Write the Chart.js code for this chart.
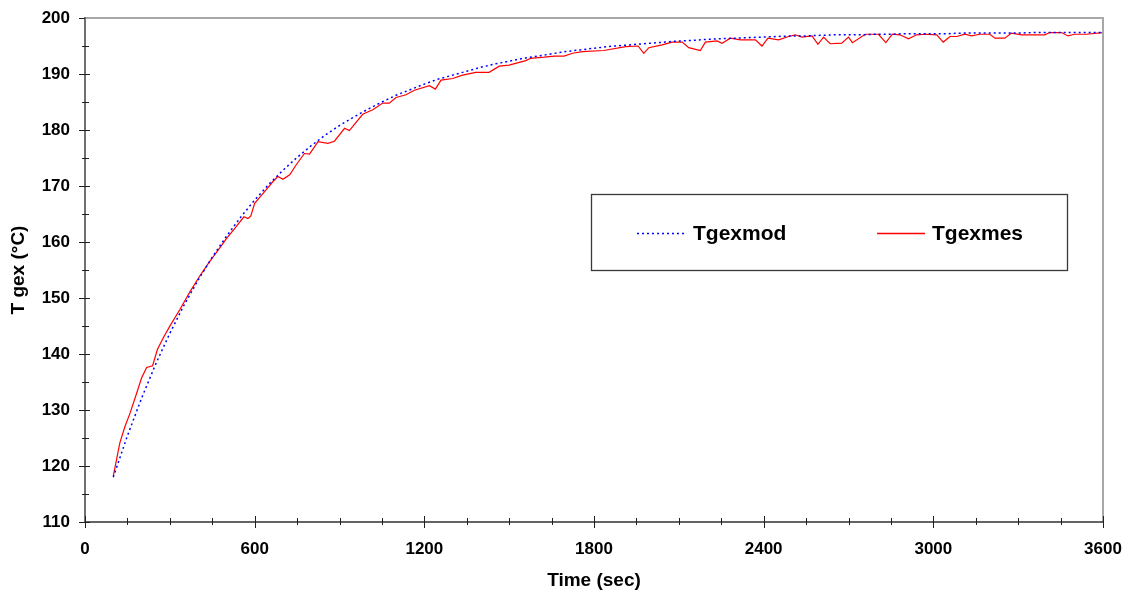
<!DOCTYPE html>
<html>
<head>
<meta charset="utf-8">
<script src="https://cdn.jsdelivr.net/npm/chart.js@4.4.1/dist/chart.umd.min.js"></script>
<style>
  html, body { margin: 0; padding: 0; background: #ffffff; }
  #wrap { width: 1131px; height: 594px; }
</style>
</head>
<body>
<div id="wrap"><canvas id="c" width="1131" height="594"></canvas></div>
<script>
// ---- data ----
const modelLabel = 'Tgexmod';
const measLabel = 'Tgexmes';
const modelColor = '#0000ff';
const measColor = '#ff0000';

const modelTime = [100,150,200,250,300,350,400,450,500,550,600,650,700,750,800,850,900,950,1000,1050,
  1100,1150,1200,1250,1300,1350,1400,1450,1500,1550,1600,1650,1700,1750,1800,1850,1900,1950,2000,2050,
  2100,2150,2200,2250,2300,2350,2400,2450,2500,2550,2600,2650,2700,2750,2800,2850,2900,2950,3000,3050,
  3100,3150,3200,3250,3300,3350,3400,3450,3500,3550,3600];
const modelTemp = [118.0,125.4,132.1,138.2,143.7,148.7,153.2,157.3,161.0,164.4,
  167.5,170.3,172.8,175.1,177.2,179.1,180.8,182.3,183.7,185.0,
  186.2,187.2,188.2,189.1,189.8,190.5,191.2,191.8,192.3,192.8,
  193.2,193.6,194.0,194.3,194.6,194.9,195.1,195.3,195.5,195.7,
  195.9,196.0,196.2,196.3,196.4,196.5,196.6,196.7,196.8,196.8,
  196.9,197.0,197.0,197.0,197.1,197.1,197.2,197.2,197.2,197.2,
  197.3,197.3,197.3,197.3,197.3,197.4,197.4,197.4,197.4,197.4,197.4];

const measTime = [100,123,141,159,180,200,218,239,256,277,298,335,371,403,435,476,500,529,562,576,
  586,600,635,665,682,700,724,747,776,794,824,859,882,918,935,982,1018,1053,1076,1100,
  1135,1165,1218,1239,1259,1300,1335,1382,1429,1465,1500,1529,1559,1576,1624,1660,1694,1724,1759,1835,
  1912,1956,1976,1994,2041,2076,2112,2135,2176,2194,2235,2253,2282,2318,2371,2394,2415,2453,2488,2512,
  2535,2571,2592,2612,2635,2676,2700,2714,2759,2806,2832,2855,2882,2912,2941,2971,3012,3035,3059,3082,
  3112,3135,3165,3200,3218,3253,3276,3312,3394,3412,3453,3476,3500,3541,3600];
const measTemp = [118.2,124.1,127.0,129.4,132.6,135.7,137.6,137.9,140.8,142.9,144.8,147.9,151.1,153.7,156.1,158.9,160.6,162.4,164.5,164.2,
  164.6,166.9,169.0,170.8,171.7,171.2,172.0,173.8,175.8,175.7,177.9,177.6,178.0,180.3,179.9,182.8,183.6,184.8,184.8,185.8,
  186.3,187.1,187.9,187.3,188.9,189.2,189.8,190.3,190.3,191.4,191.6,192.0,192.4,192.8,193.0,193.2,193.2,193.7,194.0,194.2,
  194.9,195.0,193.7,194.7,195.2,195.7,195.7,194.7,194.2,195.7,195.9,195.5,196.4,196.1,196.1,195.0,196.4,196.1,196.7,197.0,
  196.6,196.8,195.3,196.6,195.4,195.5,196.6,195.6,197.1,197.1,195.6,197.1,197.0,196.3,197.0,197.1,197.0,195.7,196.7,196.7,
  197.1,196.8,197.1,197.1,196.4,196.4,197.3,197.0,197.0,197.4,197.4,196.8,197.1,197.1,197.4];

const xTitle = 'Time (sec)';
const yTitle = 'T gex (°C)';
const xMin = 0, xMax = 3600, xStep = 600, xMinorStep = 150;
const yMin = 110, yMax = 200, yStep = 10, yMinorStep = 5;

// ---- chart ----
const FONT = "'Liberation Sans', Arial, Helvetica, sans-serif";

const axisDecor = {
  id: 'axisDecor',
  afterDraw(chart) {
    const ctx = chart.ctx;
    const { left, right, top, bottom } = chart.chartArea;
    const xs = chart.scales.x, ys = chart.scales.y;
    ctx.save();
    // top and right frame
    ctx.strokeStyle = '#a8a8a8';
    ctx.lineWidth = 2;
    ctx.beginPath();
    ctx.moveTo(left, top);
    ctx.lineTo(right, top);
    ctx.lineTo(right, bottom);
    ctx.stroke();
    // left axis
    ctx.strokeStyle = '#707070';
    ctx.lineWidth = 2;
    ctx.beginPath();
    ctx.moveTo(left, top - 1);
    ctx.lineTo(left, bottom + 1);
    ctx.stroke();
    // bottom axis
    ctx.strokeStyle = '#303030';
    ctx.lineWidth = 1.5;
    ctx.beginPath();
    ctx.moveTo(left, bottom);
    ctx.lineTo(right, bottom);
    ctx.stroke();
    // y ticks
    ctx.strokeStyle = '#202020';
    ctx.lineWidth = 1;
    for (let v = yMin; v <= yMax; v += yMinorStep) {
      const py = Math.round(ys.getPixelForValue(v)) + 0.5;
      const major = (v - yMin) % yStep === 0;
      ctx.beginPath();
      if (v === yMax) {
        ctx.moveTo(left - 6, py); ctx.lineTo(left, py);
      } else if (major) {
        ctx.moveTo(left - 6, py); ctx.lineTo(left + 5, py);
      } else {
        ctx.moveTo(left - 3, py); ctx.lineTo(left + 4, py);
      }
      ctx.stroke();
    }
    // x ticks
    for (let v = xMin; v <= xMax; v += xMinorStep) {
      const px = Math.round(xs.getPixelForValue(v)) + 0.5;
      const major = (v - xMin) % xStep === 0;
      ctx.beginPath();
      if (major) {
        ctx.moveTo(px, bottom - 6); ctx.lineTo(px, bottom + 6);
      } else {
        ctx.moveTo(px, bottom - 4); ctx.lineTo(px, bottom + 3);
      }
      ctx.stroke();
    }
    ctx.restore();
  }
};

const legendStyles = [
  { color: modelColor, width: 1.5, dash: [2, 3], x0: 637, x1: 686, tx: 693 },
  { color: measColor, width: 1.3, dash: [], x0: 877, x1: 925, tx: 932 }
];

const boxLegend = {
  id: 'boxLegend',
  afterDraw(chart) {
    const ctx = chart.ctx;
    const ds = chart.data.datasets;
    const bx = 591, by = 194, bw = 476, bh = 76;
    ctx.save();
    ctx.fillStyle = '#ffffff';
    ctx.fillRect(bx, by, bw, bh);
    ctx.strokeStyle = '#3a3a3a';
    ctx.lineWidth = 1.3;
    ctx.strokeRect(bx + 0.5, by + 0.5, bw, bh);
    const ly = 233.5;
    ds.forEach((d, i) => {
      const e = legendStyles[i];
      ctx.strokeStyle = e.color;
      ctx.lineWidth = e.width;
      ctx.setLineDash(e.dash);
      ctx.beginPath();
      ctx.moveTo(e.x0, ly);
      ctx.lineTo(e.x1, ly);
      ctx.stroke();
      ctx.setLineDash([]);
      ctx.fillStyle = '#000000';
      ctx.font = 'bold 21px ' + FONT;
      ctx.textBaseline = 'alphabetic';
      ctx.textAlign = 'left';
      ctx.fillText(d.label, e.tx, 239.5);
    });
    ctx.restore();
  }
};

const modelPoints = modelTime.map((t, i) => ({ x: t, y: modelTemp[i] }));
const measPoints = measTime.map((t, i) => ({ x: t, y: measTemp[i] }));

new Chart(document.getElementById('c'), {
  type: 'scatter',
  data: {
    datasets: [
      {
        label: modelLabel,
        data: modelPoints,
        showLine: true,
        borderColor: modelColor,
        backgroundColor: modelColor,
        borderWidth: 1.5,
        borderDash: [2, 3],
        pointRadius: 0,
        tension: 0,
        order: 1
      },
      {
        label: measLabel,
        data: measPoints,
        showLine: true,
        borderColor: measColor,
        backgroundColor: measColor,
        borderWidth: 1.2,
        pointRadius: 0,
        tension: 0,
        order: 2
      }
    ]
  },
  options: {
    responsive: false,
    animation: false,
    devicePixelRatio: 1,
    layout: { padding: { top: 18, right: 28, left: 0, bottom: 0 } },
    plugins: {
      legend: { display: false },
      tooltip: { enabled: false }
    },
    scales: {
      x: {
        type: 'linear',
        min: xMin, max: xMax,
        grid: { display: false, drawTicks: true, tickLength: 8 },
        border: { display: false },
        ticks: {
          stepSize: xStep,
          color: '#000000',
          padding: 9,
          maxRotation: 0,
          callback: (v) => String(v),
          font: { family: FONT, size: 17, weight: 'bold' }
        },
        title: {
          display: true,
          text: xTitle,
          color: '#000000',
          padding: { top: 0, bottom: 2 },
          font: { family: FONT, size: 19, weight: 'bold', lineHeight: 1.2 }
        },
        afterFit(scale) { scale.height = 72; }
      },
      y: {
        type: 'linear',
        min: yMin, max: yMax,
        grid: { display: false, drawTicks: true, tickLength: 8 },
        border: { display: false },
        ticks: {
          stepSize: yStep,
          color: '#000000',
          padding: 7,
          callback: (v) => String(v),
          font: { family: FONT, size: 17, weight: 'bold' }
        },
        title: {
          display: true,
          text: yTitle,
          color: '#000000',
          padding: { top: 7, bottom: 0 },
          font: { family: FONT, size: 19, weight: 'bold', lineHeight: 1.2 }
        },
        afterFit(scale) { scale.width = 85; }
      }
    }
  },
  plugins: [axisDecor, boxLegend]
});
</script>
</body>
</html>
